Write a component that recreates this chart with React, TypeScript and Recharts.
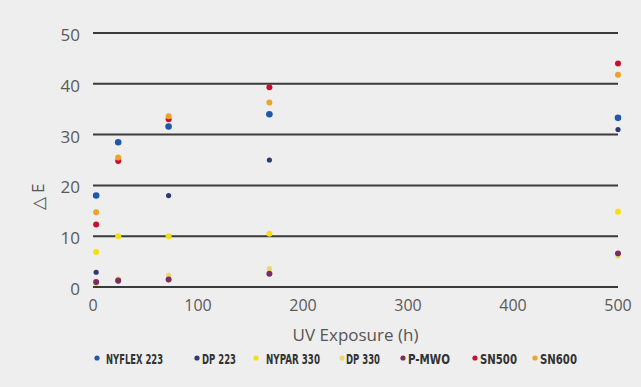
import React from 'react';
import { ScatterChart, Scatter, XAxis, YAxis, CartesianGrid } from 'recharts';

// UV exposure hours where samples were measured
const hours = [3, 24, 72, 168, 500];

// ΔE per material
const nyflex223 = [18, 28.5, 31.6, 34, 33.3];
const dp223 = [2.9, 1.2, 18, 25, 31];
const nypar330 = [6.9, 10, 10, 10.5, 14.8];
const dp330 = [0.7, 1.6, 2.3, 3.6, 6.1];
const pmwo = [1, 1.3, 1.5, 2.6, 6.6];
const sn500 = [12.3, 24.8, 33, 39.3, 44];
const sn600 = [14.7, 25.5, 33.6, 36.3, 41.8];

const seriesNames = ['NYFLEX 223', 'DP 223', 'NYPAR 330', 'DP 330', 'P-MWO', 'SN500', 'SN600'];
const seriesValues = [nyflex223, dp223, nypar330, dp330, pmwo, sn500, sn600];

const xTicks = [0, 100, 200, 300, 400, 500];
const yTicks = [0, 10, 20, 30, 40, 50];

// styling
const colors = ['#1f58a8', '#2c3b70', '#f4e010', '#ecd86a', '#7b2c60', '#c8102e', '#eba428'];
const radii = [3.3, 2.6, 3, 2.6, 3, 3, 3];
const legendLayout = [
  { dot: 97, tx: 106, w: 57 },
  { dot: 197, tx: 202, w: 34 },
  { dot: 256, tx: 266, w: 54 },
  { dot: 342, tx: 346, w: 34 },
  { dot: 403, tx: 408, w: 42 },
  { dot: 475, tx: 480, w: 37 },
  { dot: 535, tx: 540, w: 37 },
];

const FONT = '"Open Sans", sans-serif';

const YLabel = () => (
  <text
    transform="translate(37,197) rotate(-90)"
    textAnchor="middle"
    dominantBaseline="central"
    fill="#555"
    fontSize={17}
    fontFamily={FONT}
  >
    △ E
  </text>
);

const App: React.FC = () => {
  const series = seriesNames.map((name, i) => ({
    name,
    color: colors[i],
    r: radii[i],
    data: hours.map((h, j) => ({ x: h, y: seriesValues[i][j] })),
  }));

  return (
    <div style={{ position: 'absolute', left: 0, top: 0, width: 641, height: 387, background: '#eeeeee' }}>
      <ScatterChart width={641} height={387} margin={{ top: 33, right: 23, bottom: 40, left: 0 }}>
        <CartesianGrid horizontal vertical={false} stroke="#3a3a3a" strokeWidth={2} />
        <XAxis
          type="number"
          dataKey="x"
          domain={[0, 500]}
          ticks={xTicks}
          axisLine={false}
          tickLine={false}
          tickSize={0}
          tickMargin={13}
          height={60}
          tick={{ fill: '#5a5a5a', fontSize: 16, fontFamily: FONT }}
          label={{ value: 'UV Exposure (h)', position: 'insideBottom', offset: 6, fill: '#555', fontSize: 17, fontFamily: FONT }}
        />
        <YAxis
          type="number"
          dataKey="y"
          domain={[0, 50]}
          ticks={yTicks}
          width={93}
          axisLine={false}
          tickLine={false}
          tickSize={0}
          tickMargin={13}
          tick={{ fill: '#5a5a5a', fontSize: 17, fontFamily: FONT, dy: 2 }}
          label={<YLabel />}
        />
        {series.map((s) => (
          <Scatter
            key={s.name}
            name={s.name}
            data={s.data}
            fill={s.color}
            isAnimationActive={false}
            shape={(p: any) => <circle cx={p.cx} cy={p.cy} r={s.r} fill={s.color} />}
          />
        ))}
      </ScatterChart>
      <svg style={{ position: 'absolute', left: 0, top: 348 }} width={641} height={22}>
        {series.map((s, i) => (
          <g key={s.name}>
            <circle cx={legendLayout[i].dot} cy={10} r={2.6} fill={s.color} />
            <text
              x={legendLayout[i].tx}
              y={15.5}
              textLength={legendLayout[i].w}
              lengthAdjust="spacingAndGlyphs"
              fontFamily='"DejaVu Sans Condensed", "DejaVu Sans", sans-serif'
              fontWeight="bold"
              fontSize={14}
              fill="#333"
            >
              {s.name}
            </text>
          </g>
        ))}
      </svg>
    </div>
  );
};

export default App;
